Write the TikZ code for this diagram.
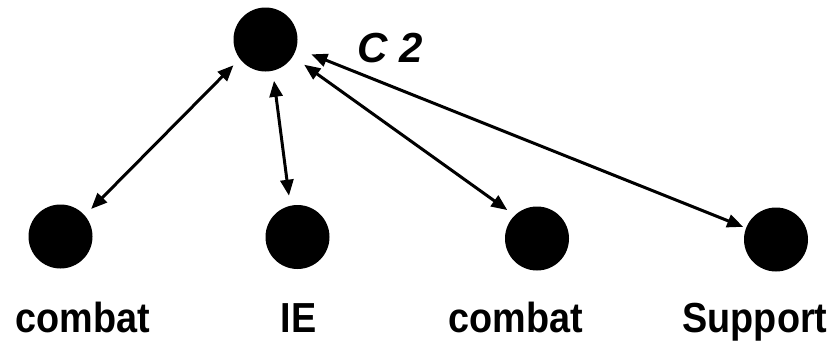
\documentclass[tikz,border=0pt]{standalone}
\usepackage{fontspec}
\setmainfont{Liberation Sans}
\usepackage{tikz}
\usetikzlibrary{arrows.meta,positioning}

\begin{document}
\begin{tikzpicture}[x=1pt, y=-1pt, >={Triangle[length=16pt,width=13pt]},
  dot/.style={circle, fill=black, minimum size=64pt, inner sep=0pt},
  lbl/.style={anchor=base, font=\fontsize{42}{42}\selectfont\bfseries, xscale=0.9},
  tag/.style={anchor=base, font=\fontsize{42}{42}\selectfont\bfseries\itshape},
  link/.style={draw, <->, line width=3pt}]
  \useasboundingbox (0,0) rectangle (832,340);

  \node [dot] (c2) at (265.5,39.5) {};
  \node [dot] (combatA) at (60.5,236.5) {};
  \node [dot] (ie) at (297.5,237) {};
  \node [dot] (combatB) at (537,238.5) {};
  \node [dot] (support) at (776,239.5) {};

  \node [tag] (c2tag) at (390,62) {C 2};
  \node [lbl] (combatAlbl) at (82.5,332) {combat};
  \node [lbl] (ielbl) at (298.5,332) {IE};
  \node [lbl] (combatBlbl) at (515.5,332) {combat};
  \node [lbl] (supportlbl) at (755,332) {Support};

  \path [link, shorten <=9pt, shorten >=9pt] (combatA.41) -- (c2.217);
  \path [link, shorten <=10pt, shorten >=10pt] (ie.103) -- (c2.283);
  \path [link, shorten <=9pt, shorten >=14pt] (combatB.134) -- (c2.328);
  \path [link, shorten <=3pt, shorten >=16pt] (support.159) -- (c2.344);
\end{tikzpicture}
\end{document}
